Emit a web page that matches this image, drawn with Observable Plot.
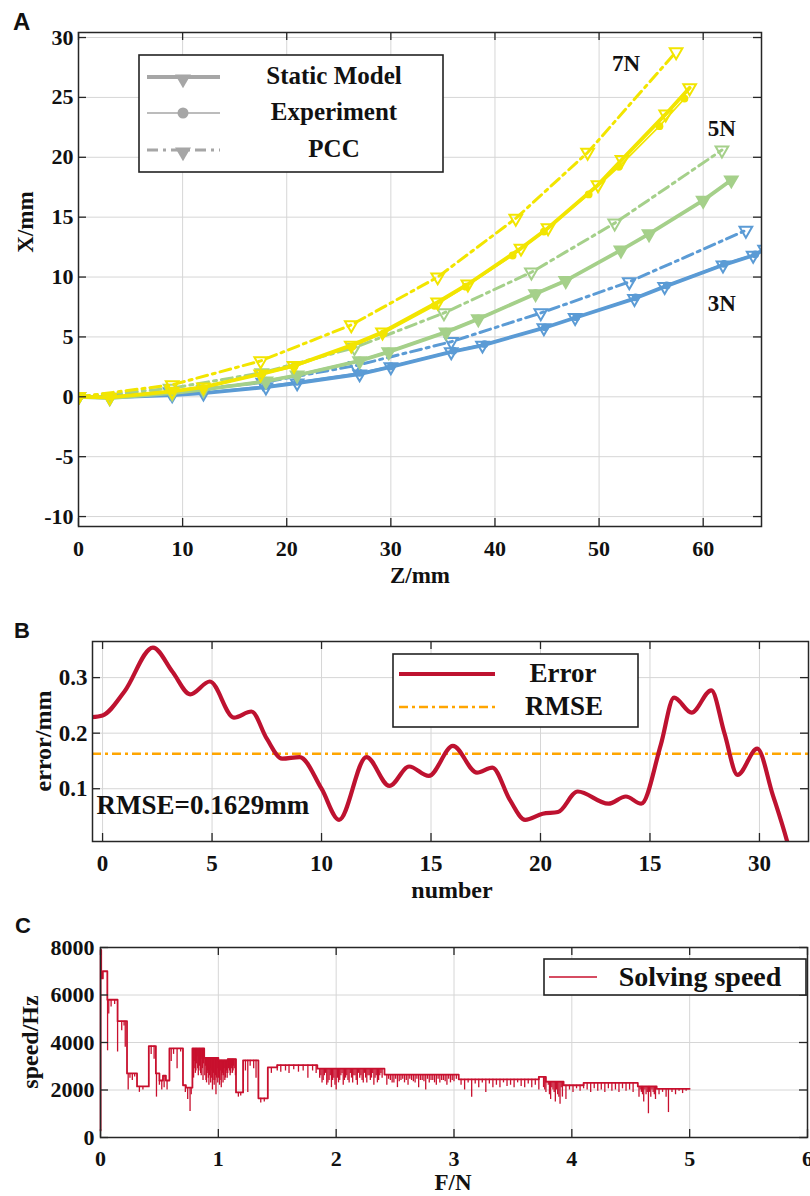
<!DOCTYPE html>
<html><head><meta charset="utf-8">
<script src="https://cdn.jsdelivr.net/npm/d3@7"></script>
<script src="https://cdn.jsdelivr.net/npm/@observablehq/plot@0.6"></script>
<style>
body{margin:0;background:#fff;}
#wrap{position:relative;width:810px;height:1196px;overflow:hidden;background:#fff;}
#wrap > svg{position:absolute;left:0;}
</style></head><body><div id="wrap"></div>
<script>
// ---------- Panel A data ----------
const forces = ["3N", "5N", "7N"];
const forceColors = ["#5b9bd5", "#a5d08a", "#f2e500"];
const staticFilled = [false, true, false];
const modelNames = ["Static Model", "Experiment", "PCC"];

const z3Static = [0, 3, 9, 12, 18, 21, 27, 30, 35.8, 38.8, 44.7, 47.7, 53.4, 56.3, 61.9, 64.8, 65.9];
const x3Static = [0, -0.05, 0.15, 0.3, 0.8, 1.15, 1.9, 2.5, 3.75, 4.3, 5.75, 6.6, 8.2, 9.2, 11.0, 11.8, 12.3];
const z3Exp = [0, 3, 9, 12, 18, 21, 27, 30, 36, 39, 44.8, 47.8, 53.5, 56.5, 62, 65, 66];
const x3Exp = [0, 0, 0.2, 0.35, 0.9, 1.25, 2.0, 2.55, 3.85, 4.4, 5.8, 6.65, 8.3, 9.3, 11.1, 11.9, 12.3];
const z3Pcc = [0, 8.8, 17.7, 26.6, 35.8, 44.4, 52.9, 64.1];
const x3Pcc = [0, 0.4, 1.2, 2.6, 4.6, 7.0, 9.6, 13.9];

const z5Static = [0, 3, 9, 12, 18, 21, 27, 29.8, 35.3, 38.4, 43.9, 46.8, 52.1, 54.8, 60, 62.7];
const x5Static = [0, -0.1, 0.3, 0.6, 1.3, 1.8, 3.0, 3.75, 5.4, 6.5, 8.6, 9.7, 12.25, 13.6, 16.4, 18.1];
const z5Exp = [0, 3, 9, 12, 18, 21, 27, 29.8, 35.3, 38.4, 43.9, 46.8, 52, 54.7, 59.9, 62.6];
const x5Exp = [0, 0, 0.35, 0.65, 1.35, 1.85, 3.05, 3.8, 5.45, 6.55, 8.65, 9.75, 12.2, 13.55, 16.3, 18.0];
const z5Pcc = [0, 8.8, 17.6, 26.5, 35.1, 43.5, 51.5, 61.8];
const x5Pcc = [0, 0.7, 2.0, 4.1, 7.0, 10.4, 14.5, 20.6];

const z7Static = [0, 3, 9, 12, 17.5, 20.7, 26.2, 29.2, 34.5, 37.4, 42.5, 45.1, 49.9, 52.2, 56.4, 58.7];
const x7Static = [0, -0.05, 0.45, 0.8, 1.9, 2.6, 4.3, 5.4, 7.9, 9.4, 12.4, 14.1, 17.7, 19.8, 23.6, 25.8];
const z7Exp = [0, 3, 9, 12, 17.6, 20.7, 26.3, 29.3, 34.2, 37.2, 41.7, 44.7, 49, 51.9, 55.8, 58.2];
const x7Exp = [0, 0, 0.5, 0.75, 1.9, 2.5, 4.2, 5.3, 7.6, 9.2, 11.8, 13.8, 16.9, 19.2, 22.6, 24.9];
const z7Pcc = [0, 9, 17.5, 26.2, 34.5, 42, 48.9, 57.4];
const x7Pcc = [0, 1.0, 3.0, 6.0, 10.0, 14.9, 20.4, 28.8];

const labelZ = [61.8, 61.8, 52.6];
const labelX = [7.8, 22.4, 27.8];

const xTicksA = [0, 10, 20, 30, 40, 50, 60];
const yTicksA = [-10, -5, 0, 5, 10, 15, 20, 25, 30];

// ---------- Panel B data ----------
const errN = [-0.5, 0, 1, 2.3, 3.2, 4.0, 4.9, 6.0, 6.8, 7.5, 8.2, 9.0, 10.0, 10.8, 12.05, 13.1, 14.0, 14.9, 16.0, 17.1, 17.8, 18.6, 19.3, 20.1, 20.8, 21.7, 23.1, 23.9, 24.6, 25.5, 26.1, 26.9, 27.8, 28.4, 29.0, 29.9, 30.6, 31.3, 31.8];
const errV = [0.229, 0.232, 0.275, 0.354, 0.31, 0.27, 0.293, 0.228, 0.239, 0.19, 0.154, 0.157, 0.10, 0.044, 0.157, 0.105, 0.14, 0.123, 0.177, 0.129, 0.138, 0.08, 0.044, 0.055, 0.058, 0.095, 0.073, 0.086, 0.073, 0.18, 0.264, 0.237, 0.277, 0.2, 0.125, 0.172, 0.09, 0.0, -0.08];
const rmse = 0.1629;
const xTicksB = [0, 5, 10, 15, 20, 25, 30];
const xTickLabelsB = ["0", "5", "10", "15", "20", "15", "30"];
const yTicksB = [0.1, 0.2, 0.3];

// ---------- Panel C data ----------
const speedSteps = [[0, 300], [0.001, 7900], [0.006, 6700], [0.02, 7000], [0.058, 5800], [0.145, 4900], [0.225, 2700], [0.31, 2150], [0.41, 3850], [0.47, 2700], [0.5, 2400], [0.53, 2600], [0.555, 2400], [0.585, 3750], [0.70, 2200], [0.725, 2100], [0.78, 3750], [0.88, 3350], [1.0, 3250], [1.08, 3300], [1.15, 1900], [1.21, 3250], [1.34, 1650], [1.42, 2950], [1.5, 3050], [1.84, 2900], [2.41, 2650], [3.04, 2450], [3.72, 2550], [3.78, 2350], [3.93, 2200], [4.1, 2300], [4.56, 2150], [4.72, 2050], [5.0, 2050]];
const speedSpikes = [
[0.06,3650],[0.07,5200],[0.09,5500],[0.12,5600],[0.145,3600],[0.18,4500],[0.2,4700],[0.21,3800],
[0.235,2000],[0.25,2500],[0.27,2400],[0.29,2550],[0.33,1900],[0.36,2000],
[0.43,3500],[0.455,3300],[0.475,1700],[0.5,2200],[0.52,2000],[0.54,2100],[0.565,2000],
[0.6,3200],[0.62,3500],[0.65,2900],[0.68,3600],[0.72,1900],[0.74,1600],[0.76,1100],[0.77,1800],
[0.785,3000],[0.79,2500],[0.795,2900],[0.80,3200],[0.805,2700],[0.81,2800],[0.815,3100],[0.82,3400],[0.825,2900],[0.83,2600],[0.835,2800],[0.84,3000],[0.845,3200],[0.85,2700],[0.855,2600],[0.86,3300],[0.865,2900],[0.87,2400],[0.875,3100],
[0.885,2600],[0.89,3000],[0.895,2400],[0.9,2300],[0.905,2700],[0.91,2800],[0.915,2500],[0.92,2200],[0.925,2600],[0.93,2900],[0.935,2300],[0.94,2500],[0.945,2800],[0.95,2000],[0.955,2400],[0.96,2700],[0.965,2200],[0.97,2400],[0.975,2600],[0.98,1800],[0.985,2500],[0.99,2900],[0.995,2300],
[1.0,2500],[1.005,2700],[1.01,2200],[1.015,2400],[1.02,2800],[1.025,2100],[1.03,2600],[1.035,2700],[1.04,2300],[1.045,2600],[1.05,2900],[1.055,2400],[1.06,2500],[1.065,2700],[1.07,2800],[1.075,2500],[1.08,2700],[1.085,2900],[1.09,3000],[1.095,2800],[1.1,2600],[1.105,2700],[1.11,2900],[1.115,3000],[1.12,2700],[1.125,2800],[1.13,3000],[1.135,2900],[1.145,2600],
[1.17,1700],[1.19,1750],[1.23,2800],[1.25,1900],[1.27,3000],[1.3,2900],[1.32,2500],[1.36,1450],[1.39,1500],
[1.45,2700],[1.5,2800],[1.53,2750],[1.57,2800],[1.6,2700],[1.64,2850],[1.68,2750],[1.72,2800],[1.76,2500],[1.8,2800],[1.83,2700],
[1.86,2500],[1.87,2600],[1.88,2300],[1.89,2400],[1.9,2600],[1.91,2700],[1.92,2200],[1.93,2300],[1.94,2400],[1.95,2600],[1.96,2100],[1.97,2400],[1.98,2500],[1.99,2200],[2.0,2000],[2.01,2500],[2.02,2300],[2.03,2400],[2.04,2600],[2.05,2700],[2.06,2200],[2.07,2400],[2.08,2500],[2.09,2600],[2.1,2400],[2.11,2300],[2.12,2700],[2.13,2500],[2.14,2300],[2.15,2600],[2.16,2600],[2.17,2400],[2.18,2200],[2.19,2700],[2.2,2500],[2.21,2600],[2.22,2400],[2.23,2300],[2.24,2700],[2.25,2500],[2.26,2300],[2.27,2600],[2.28,2600],[2.29,2400],[2.3,2500],[2.31,2700],[2.32,2200],[2.33,2500],[2.34,2600],[2.35,2300],[2.36,2400],[2.37,2600],[2.38,2700],[2.39,2500],
[2.43,2200],[2.445,2450],[2.46,2400],[2.475,2300],[2.49,2300],[2.505,2450],[2.52,2100],[2.535,2350],[2.55,2400],[2.565,2450],[2.58,2300],[2.595,2400],[2.61,2200],[2.625,2450],[2.64,2400],[2.655,2350],[2.67,2300],[2.685,2450],[2.7,2100],[2.715,2400],[2.73,2400],[2.745,2350],[2.76,2000],[2.775,2450],[2.79,2300],[2.805,2400],[2.82,2400],[2.835,2300],[2.85,2200],[2.865,2450],[2.88,2300],[2.895,2400],[2.91,2400],[2.925,2350],[2.94,2200],[2.955,2450],[2.97,2300],[2.985,2400],[3.0,2350],[3.02,2450],
[3.06,2200],[3.09,2000],[3.12,2300],[3.15,1700],[3.18,2250],[3.21,2100],[3.24,2300],[3.27,1900],[3.3,2250],[3.33,2100],[3.36,2200],[3.39,2100],[3.42,2300],[3.45,2150],[3.48,2200],[3.51,2100],[3.54,2300],[3.57,2150],[3.6,2100],[3.63,2250],[3.66,2100],[3.69,2200],[3.72,2000],
[3.76,2100],[3.77,2000],[3.78,1900],[3.79,2300],[3.8,2200],[3.81,1800],[3.82,1600],[3.83,2100],[3.84,2000],[3.85,1900],[3.86,1500],[3.87,2000],[3.88,1800],[3.89,1700],[3.9,1400],[3.91,2100],[3.92,1700],
[3.95,1600],[3.98,2000],[4.01,1900],[4.04,2050],[4.07,1950],[4.1,2050],[4.13,2000],[4.16,1900],[4.19,2050],[4.22,1950],[4.25,2000],[4.28,1900],[4.31,2050],[4.34,1950],[4.37,2000],[4.4,1900],[4.43,2050],[4.46,1950],[4.49,2000],[4.52,1900],
[4.57,1700],[4.58,2000],[4.59,1900],[4.6,1800],[4.61,1500],[4.62,2000],[4.63,1800],[4.64,1900],[4.65,1000],[4.66,1900],[4.67,1700],[4.68,2000],[4.69,1900],[4.7,1800],[4.71,1600],
[4.74,1800],[4.77,1900],[4.8,1700],[4.82,1050],[4.85,1900],[4.88,1800],[4.91,1950],[4.94,1850],[4.97,1950]
];
const xTicksC = [0, 1, 2, 3, 4, 5, 6];
const yTicksC = [0, 2000, 4000, 6000, 8000];

// ---------- helpers ----------
const SERIF = '"Liberation Serif","Times New Roman",serif';
const SANS = '"Liberation Sans",Arial,sans-serif';
const AXC = "#262626";
const gridStyle = {stroke: "#d6d6d6", strokeOpacity: 1, strokeWidth: 1};
const wrap = document.getElementById("wrap");

function innerTicks(xt, yt, xd, yd, W, H, m, len = 8) {
  const iw = W - m.left - m.right, ih = H - m.top - m.bottom;
  const dy = len * (yd[1] - yd[0]) / ih, dx = len * (xd[1] - xd[0]) / iw;
  const s = {stroke: AXC, strokeWidth: 1.3};
  return [
    Plot.ruleX(xt, {y1: yd[0], y2: yd[0] + dy, ...s}),
    Plot.ruleX(xt, {y1: yd[1], y2: yd[1] - dy, ...s}),
    Plot.ruleY(yt, {x1: xd[0], x2: xd[0] + dx, ...s}),
    Plot.ruleY(yt, {x1: xd[1], x2: xd[1] - dx, ...s})
  ];
}
function addText(svg, x, y, str, o = {}) {
  d3.select(svg).append("text")
    .attr("transform", `translate(${x},${y}) rotate(${o.rotate || 0})`)
    .attr("text-anchor", o.anchor || "middle")
    .attr("dy", "0.35em")
    .attr("font-family", o.family || SERIF)
    .attr("font-weight", "bold")
    .attr("font-size", o.size || 23)
    .attr("fill", o.fill || "#111")
    .text(str);
}
function place(svg, top) { svg.style.top = top + "px"; svg.style.maxWidth = "none"; wrap.appendChild(svg); }

// ---------- Panel A ----------
const rowsOf = (force, model, zs, xs) => zs.map((z, i) => ({force, model, z, x: xs[i]}));
const dataA = [
  ...rowsOf("3N", "PCC", z3Pcc, x3Pcc), ...rowsOf("3N", "Static Model", z3Static, x3Static), ...rowsOf("3N", "Experiment", z3Exp, x3Exp),
  ...rowsOf("5N", "PCC", z5Pcc, x5Pcc), ...rowsOf("5N", "Static Model", z5Static, x5Static), ...rowsOf("5N", "Experiment", z5Exp, x5Exp),
  ...rowsOf("7N", "PCC", z7Pcc, x7Pcc), ...rowsOf("7N", "Static Model", z7Static, x7Static), ...rowsOf("7N", "Experiment", z7Exp, x7Exp)
];
{
  const W = 810, H = 595, m = {top: 32, right: 49, bottom: 69, left: 78};
  const xd = [0, 65.6], yd = [-10.83, 30.42];
  const seriesMarks = forces.flatMap((f, i) => {
    const c = forceColors[i];
    const sel = model => dataA.filter(d => d.force === f && d.model === model);
    const pcc = sel("PCC"), st = sel("Static Model"), ex = sel("Experiment");
    const tri = {x: "z", y: "x", symbol: "triangle", rotate: 180, r: 4.7, clip: true};
    return [
      Plot.line(pcc, {x: "z", y: "x", stroke: c, strokeWidth: 3, strokeDasharray: "11,5,3,5", clip: true}),
      Plot.dot(pcc, {...tri, stroke: c, strokeWidth: 2, fill: "none"}),
      Plot.line(st, {x: "z", y: "x", stroke: c, strokeWidth: 3.8, clip: true}),
      Plot.dot(st, {...tri, stroke: c, strokeWidth: 2, fill: staticFilled[i] ? c : "none"}),
      Plot.line(ex, {x: "z", y: "x", stroke: c, strokeWidth: 1.6, clip: true}),
      Plot.dot(ex, {x: "z", y: "x", r: 3.9, fill: c, clip: true})
    ];
  });
  const svg = Plot.plot({
    width: W, height: H, marginTop: m.top, marginRight: m.right, marginBottom: m.bottom, marginLeft: m.left,
    style: {fontFamily: SERIF, fontWeight: "bold", fontSize: "22px", color: "#111", background: "transparent"},
    x: {domain: xd, ticks: xTicksA, tickSize: 0, tickPadding: 14, tickFormat: d => String(d), label: null},
    y: {domain: yd, ticks: yTicksA, tickSize: 0, tickPadding: 5, tickFormat: d => String(d), label: null},
    marks: [
      Plot.gridX(xTicksA, gridStyle), Plot.gridY(yTicksA, gridStyle),
      ...seriesMarks,
      Plot.text(forces, {x: (d, i) => labelZ[i], y: (d, i) => labelX[i], text: d => d, fontSize: 23, fontWeight: "bold", fontFamily: SERIF, fill: "#111"}),
      ...innerTicks(xTicksA, yTicksA, xd, yd, W, H, m),
      Plot.frame({stroke: AXC, strokeWidth: 1.5})
    ]
  });
  place(svg, 0);
  const g = d3.select(svg).append("g");
  g.append("rect").attr("x", 139).attr("y", 55).attr("width", 304).attr("height", 117).attr("fill", "#fff").attr("stroke", "#222").attr("stroke-width", 1.6);
  const gray = "#a6a6a6";
  const rowsY = [77, 113, 150];
  g.append("line").attr("x1", 147).attr("x2", 220).attr("y1", rowsY[0]).attr("y2", rowsY[0]).attr("stroke", gray).attr("stroke-width", 4);
  g.append("line").attr("x1", 147).attr("x2", 220).attr("y1", rowsY[1]).attr("y2", rowsY[1]).attr("stroke", gray).attr("stroke-width", 1.5);
  g.append("line").attr("x1", 147).attr("x2", 220).attr("y1", rowsY[2]).attr("y2", rowsY[2]).attr("stroke", gray).attr("stroke-width", 3.2).attr("stroke-dasharray", "11,5,3,5");
  const triPath = d3.symbol(d3.symbolTriangle, 110)();
  g.append("path").attr("d", triPath).attr("transform", `translate(183,${rowsY[0] + 2}) rotate(180)`).attr("fill", gray);
  g.append("circle").attr("cx", 183).attr("cy", rowsY[1]).attr("r", 5.5).attr("fill", gray);
  g.append("path").attr("d", triPath).attr("transform", `translate(183,${rowsY[2] + 2}) rotate(180)`).attr("fill", gray);
  modelNames.forEach((n, i) => addText(svg, 334, rowsY[i] - 2, n, {size: 25}));
  addText(svg, 25, 222, "X/mm", {rotate: -90, size: 23});
  addText(svg, 420, 575, "Z/mm", {size: 23});
  addText(svg, 13, 22, "A", {family: SANS, size: 24, anchor: "start"});
}

// ---------- Panel B ----------
{
  const W = 810, H = 310, m = {top: 41, right: 2, bottom: 69, left: 92};
  const xd = [-0.46, 32.24], yd = [0.005, 0.365];
  const errData = errN.map((n, i) => ({n, e: errV[i]}));
  const svg = Plot.plot({
    width: W, height: H, marginTop: m.top, marginRight: m.right, marginBottom: m.bottom, marginLeft: m.left,
    style: {fontFamily: SERIF, fontWeight: "bold", fontSize: "23px", color: "#111", background: "transparent"},
    x: {domain: xd, ticks: xTicksB, tickSize: 0, tickPadding: 13, tickFormat: (d) => xTickLabelsB[xTicksB.indexOf(d)], label: null},
    y: {domain: yd, ticks: yTicksB, tickSize: 0, tickPadding: 5, tickFormat: d => d.toFixed(1), label: null},
    marks: [
      Plot.gridX(xTicksB, gridStyle), Plot.gridY(yTicksB, gridStyle),
      Plot.ruleY([rmse], {stroke: "#ffa500", strokeWidth: 2.4, strokeDasharray: "9,4,3,4"}),
      Plot.line(errData, {x: "n", y: "e", curve: "monotone-x", stroke: "#be1230", strokeWidth: 4.2, clip: true}),
      Plot.text([`RMSE=${rmse}mm`], {frameAnchor: "bottom-left", dx: 4, dy: -28, textAnchor: "start", fontSize: 27, fontWeight: "bold", fontFamily: SERIF, fill: "#111"}),
      ...innerTicks(xTicksB, yTicksB, xd, yd, W, H, m),
      Plot.frame({stroke: AXC, strokeWidth: 1.5})
    ]
  });
  place(svg, 600);
  const g = d3.select(svg).append("g");
  g.append("rect").attr("x", 393).attr("y", 54).attr("width", 245).attr("height", 73).attr("fill", "#fff").attr("stroke", "#222").attr("stroke-width", 1.6);
  g.append("line").attr("x1", 399).attr("x2", 495).attr("y1", 74).attr("y2", 74).attr("stroke", "#be1230").attr("stroke-width", 4.2);
  g.append("line").attr("x1", 399).attr("x2", 495).attr("y1", 107).attr("y2", 107).attr("stroke", "#ffa500").attr("stroke-width", 2.4).attr("stroke-dasharray", "9,4,3,4");
  addText(svg, 563, 73, "Error", {size: 27});
  addText(svg, 564, 106, "RMSE", {size: 27});
  addText(svg, 43, 141, "error/mm", {rotate: -90, size: 24});
  addText(svg, 452, 290, "number", {size: 24});
  addText(svg, 14, 30, "B", {family: SANS, size: 22, anchor: "start"});
}

// ---------- Panel C ----------
{
  const W = 810, H = 286, m = {top: 37, right: 3, bottom: 59, left: 100};
  const xd = [0, 6], yd = [0, 8000];
  const steps = speedSteps.map(([F, v]) => ({F, v}));
  const levelAt = F => { let v = speedSteps[0][1]; for (const [f, s] of speedSteps) if (f <= F) v = s; return v; };
  const spikes = speedSpikes.map(([F, v]) => ({F, top: levelAt(F), v}));
  const red = "#c8102e";
  const svg = Plot.plot({
    width: W, height: H, marginTop: m.top, marginRight: m.right, marginBottom: m.bottom, marginLeft: m.left,
    style: {fontFamily: SERIF, fontWeight: "bold", fontSize: "22px", color: "#111", background: "transparent"},
    x: {domain: xd, ticks: xTicksC, tickSize: 0, tickPadding: 13, tickFormat: d => String(d), label: null},
    y: {domain: yd, ticks: yTicksC, tickSize: 0, tickPadding: 6, tickFormat: d => String(d), label: null},
    marks: [
      Plot.gridX(xTicksC, gridStyle), Plot.gridY(yTicksC, gridStyle),
      Plot.ruleX(spikes, {x: "F", y1: "top", y2: "v", stroke: red, strokeWidth: 1.3}),
      Plot.line(steps, {x: "F", y: "v", curve: "step-after", stroke: red, strokeWidth: 1.8}),
      ...innerTicks(xTicksC, yTicksC, xd, yd, W, H, m),
      Plot.frame({stroke: AXC, strokeWidth: 1.5})
    ]
  });
  place(svg, 910);
  const g = d3.select(svg).append("g");
  g.append("rect").attr("x", 544).attr("y", 49).attr("width", 262).attr("height", 36).attr("fill", "#fff").attr("stroke", "#222").attr("stroke-width", 1.6);
  g.append("line").attr("x1", 549).attr("x2", 597).attr("y1", 67).attr("y2", 67).attr("stroke", red).attr("stroke-width", 1.3);
  addText(svg, 700, 66, "Solving speed", {size: 28});
  addText(svg, 30, 132, "speed/Hz", {rotate: -90, size: 24});
  addText(svg, 453, 272, "F/N", {size: 23});
  addText(svg, 15, 15, "C", {family: SANS, size: 22, anchor: "start"});
}
</script></body></html>
